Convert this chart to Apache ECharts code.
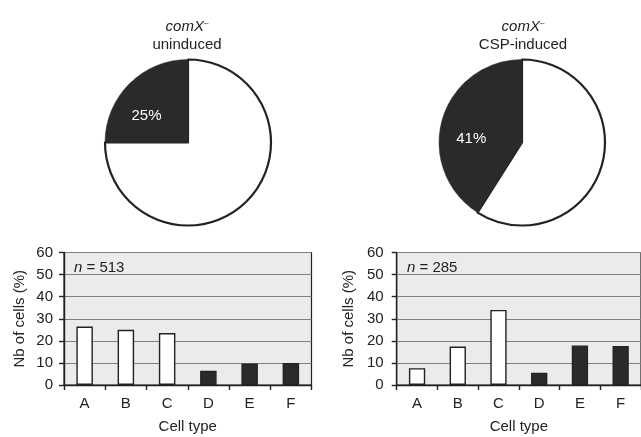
<!DOCTYPE html>
<html>
<head>
<meta charset="utf-8">
<script src="https://cdn.jsdelivr.net/npm/echarts@6/dist/echarts.min.js"></script>
<style>
html,body{margin:0;padding:0;background:#fff;}
#chart{width:641px;height:437px;}
</style>
</head>
<body>
<div id="chart"></div>
<script>
// ---- data ----
const pieTitlesLine2 = ['uninduced', 'CSP-induced'];
const pieGene = 'comX';
const pieUninduced = [75, 25];   // [other, comX-dependent]
const pieInduced = [59, 41];
const pieLabels = ['25%', '41%'];
const categories = ['A', 'B', 'C', 'D', 'E', 'F'];
const barsUninduced = [26.5, 25, 23.5, 6.4, 9.7, 10];
const barsInduced = [7.6, 17.4, 34, 5.6, 17.9, 17.7];
const nUninduced = 513;
const nInduced = 285;
const yTicks = { min: 0, max: 60, interval: 10 };
const darkFrom = 3; // categories D, E, F drawn dark

const DARK = '#2a2a2a';
const FONT = 'Liberation Sans, Arial, sans-serif';
const FS = 15;

const chart = echarts.init(document.getElementById('chart'), null, { renderer: 'canvas' });

function pieTitle(x, line2) {
  return {
    text: '{i|' + pieGene + '}{s|\u2013}\n{n|' + line2 + '}',
    left: x, top: 13, textAlign: 'center',
    textStyle: {
      fontWeight: 'normal',
      rich: {
        i: { fontFamily: FONT, fontStyle: 'italic', fontWeight: 'normal', fontSize: FS, color: '#222', lineHeight: 18 },
        s: { fontFamily: FONT, fontWeight: 'normal', fontSize: 8, color: '#222', padding: [0, 0, 9, 0], lineHeight: 18 },
        n: { fontFamily: FONT, fontWeight: 'normal', fontSize: FS, color: '#222', lineHeight: 18 }
      }
    }
  };
}
function nTitle(x, n) {
  return {
    text: '{i|n}{r| = ' + n + '}',
    left: x, top: 255,
    textStyle: { fontWeight: 'normal',
      rich: {
        i: { fontFamily: FONT, fontStyle: 'italic', fontWeight: 'normal', fontSize: FS, color: '#222' },
        r: { fontFamily: FONT, fontWeight: 'normal', fontSize: FS, color: '#222' }
      } }
  };
}

function pieSeries(center, values, label, off) {
  return {
    type: 'pie', center: center, radius: 83, startAngle: 90, clockwise: true,
    silent: true, animation: false,
    itemStyle: { borderColor: '#222', borderWidth: 2.2 },
    data: [
      { value: values[0], itemStyle: { color: '#fff' }, label: { show: false } },
      { value: values[1], itemStyle: { color: DARK, borderColor: DARK, borderWidth: 0.5 },
        label: { show: true, position: 'inside', formatter: label, color: '#fff',
          fontFamily: FONT, fontSize: FS, offset: off } }
    ],
    labelLine: { show: false }
  };
}

function gridOf(left, right) {
  return { left: left, right: right, top: 252.5, bottom: 52, show: true,
    backgroundColor: '#ebebeb', borderColor: '#222', borderWidth: 1.2 };
}
function xAxisOf(idx) {
  return {
    type: 'category', gridIndex: idx, data: categories,
    name: 'Cell type', nameLocation: 'middle', nameGap: 34,
    nameTextStyle: { fontFamily: FONT, fontSize: FS, color: '#222' },
    axisLine: { lineStyle: { color: '#222', width: 1.4 } },
    axisTick: { show: true, length: 5, lineStyle: { color: '#222', width: 1.4 } },
    axisLabel: { fontFamily: FONT, fontSize: FS, color: '#222', margin: 11 }
  };
}
function yAxisOf(idx, margin, nameGap) {
  return {
    type: 'value', gridIndex: idx, min: yTicks.min, max: yTicks.max, interval: yTicks.interval,
    name: 'Nb of cells (%)', nameLocation: 'middle', nameGap: nameGap, nameRotate: 90,
    nameTextStyle: { fontFamily: FONT, fontSize: FS, color: '#222' },
    axisLine: { show: true, lineStyle: { color: '#222', width: 1.4 } },
    axisTick: { show: true, length: 5, lineStyle: { color: '#222', width: 1.4 } },
    axisLabel: { fontFamily: FONT, fontSize: FS, color: '#222', margin: margin },
    splitLine: { show: true, lineStyle: { color: '#808080', width: 1 } }
  };
}
function barSeries(idx, values) {
  return {
    type: 'bar', xAxisIndex: idx, yAxisIndex: idx, data: values, barWidth: '40%',
    silent: true, animation: false,
    itemStyle: {
      color: p => p.dataIndex < darkFrom ? '#fff' : DARK,
      borderColor: '#222', borderWidth: 1.4
    }
  };
}

chart.setOption({
  animation: false,
  title: [
    pieTitle(182, pieTitlesLine2[0]),
    pieTitle(518, pieTitlesLine2[1]),
    nTitle(69, nUninduced),
    nTitle(402, nInduced)
  ],
  grid: [gridOf(64, 329.5), gridOf(396.7, -3)],
  xAxis: [xAxisOf(0), xAxisOf(1)],
  yAxis: [yAxisOf(0, 11, 37), yAxisOf(1, 13, 40)],
  series: [
    pieSeries([188, 142.5], pieUninduced, pieLabels[0], [-10, 5]),
    pieSeries([522, 142.5], pieInduced, pieLabels[1], [-8, 9]),
    barSeries(0, barsUninduced),
    barSeries(1, barsInduced)
  ]
});
</script>
</body>
</html>
